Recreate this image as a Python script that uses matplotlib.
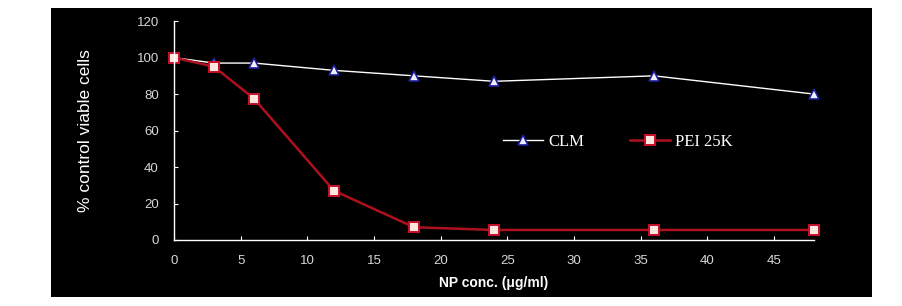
import matplotlib.pyplot as plt
from matplotlib.patches import Rectangle

conc = [0, 3, 6, 12, 18, 24, 36, 48]
clm = [100, 97, 97, 93, 90, 87, 90, 80]
pei = [100, 95, 77.5, 27, 7, 5.5, 5.5, 5.5]
xticks = [0, 5, 10, 15, 20, 25, 30, 35, 40, 45]
yticks = [0, 20, 40, 60, 80, 100, 120]

fig = plt.figure(figsize=(9.03, 3.06), dpi=100)
fig.patch.set_facecolor('white')
fig.patches.append(Rectangle((0.0565, 0.0294), 0.9092, 0.9445, transform=fig.transFigure,
                             facecolor='black', edgecolor='none', zorder=-10))

ax = fig.add_axes([0.1927, 0.2157, 0.7087, 0.7153])
ax.set_facecolor('none')

ax.plot(conc, clm, color='white', lw=1, marker='^', markersize=6.5, clip_on=False,
        markerfacecolor='#eef0ff', markeredgecolor='#1c1c9a', markeredgewidth=1.2, label='CLM')
ax.plot(conc, pei, color='#b0101e', lw=1.8, marker='s', markersize=7, clip_on=False,
        markerfacecolor='#fbe6e0', markeredgecolor='#c8102a', markeredgewidth=1.4, label='PEI 25K')

ax.set_xlim(0, 48)
ax.set_ylim(0, 120)
ax.set_xticks(xticks)
ax.set_yticks(yticks)
for s in ['top', 'right']:
    ax.spines[s].set_visible(False)
for s in ['left', 'bottom']:
    ax.spines[s].set_color('white')
    ax.spines[s].set_linewidth(1)
ax.tick_params(direction='in', length=3, color='white', colors='#d8d8d8',
               labelsize=9.5)
ax.tick_params(axis='y', pad=11)
ax.tick_params(axis='x', pad=11)
for lab in ax.get_xticklabels() + ax.get_yticklabels():
    lab.set_family('Liberation Sans')

ax.set_ylabel('% control viable cells', color='white', fontsize=12.5,
              family='Liberation Sans', labelpad=31)
ax.set_xlabel('NP conc. (\u03bcg/ml)', color='white', fontsize=10, fontweight='bold',
              family='Liberation Sans', labelpad=6)

leg = ax.legend(ncol=2, frameon=False, loc='center left', bbox_to_anchor=(0.514, 0.447),
                borderaxespad=0, borderpad=0, handlelength=2.4, handletextpad=0.3,
                columnspacing=2.8, prop={'family': 'Liberation Serif', 'size': 12})
for t in leg.get_texts():
    t.set_color('white')

fig.savefig('out.png', dpi=100)
